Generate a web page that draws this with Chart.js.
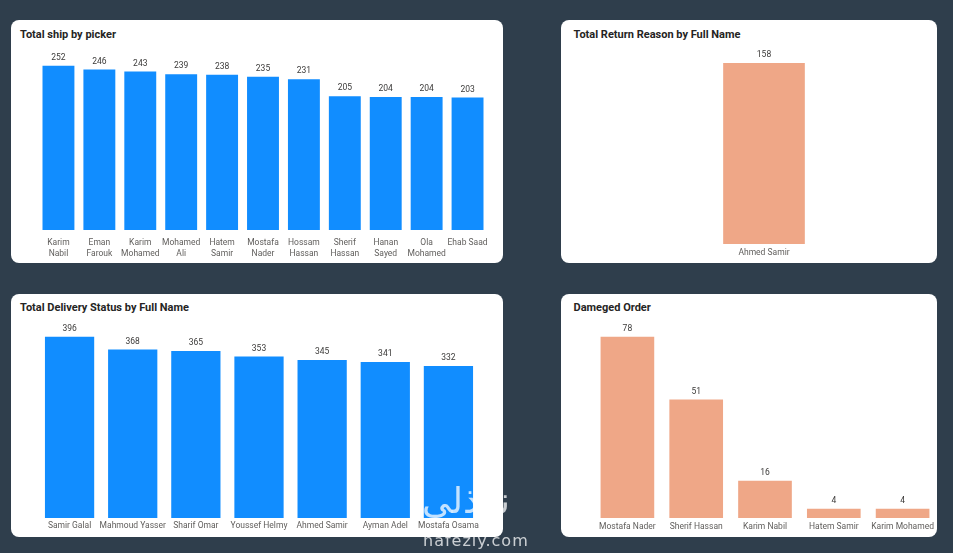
<!DOCTYPE html>
<html>
<head>
<meta charset="utf-8">
<script src="https://cdn.jsdelivr.net/npm/chart.js@4.4.1/dist/chart.umd.min.js"></script>
<style>
  html, body { margin: 0; padding: 0; }
  body { width: 953px; height: 553px; background: #2f3e4c; position: relative; overflow: hidden; font-family: Roboto, "Noto Sans", sans-serif; }
  .panel { position: absolute; background: #fff; border-radius: 8px; overflow: hidden; }
  .title { position: absolute; font-weight: 700; font-size: 11px; color: #252423; white-space: nowrap; line-height: 12px; }
  .box { position: absolute; }
  .mark { position: absolute; color: rgba(255,255,255,0.75); font-family: "DejaVu Sans", sans-serif; white-space: nowrap; }
</style>
</head>
<body>
<div class="panel" id="p1" style="left:11px;top:20px;width:492px;height:243px;">
  <div class="title" style="left:9px;top:9px;">Total ship by picker</div>
  <div class="box" style="left:26.5px;top:30px;width:450px;height:213px;"><canvas id="shipChart"></canvas></div>
</div>
<div class="panel" id="p2" style="left:561px;top:20px;width:376px;height:243px;">
  <div class="title" style="left:12.5px;top:9px;">Total Return Reason by Full Name</div>
  <div class="box" style="left:39px;top:30px;width:328px;height:213px;"><canvas id="returnChart"></canvas></div>
</div>
<div class="panel" id="p3" style="left:11px;top:294px;width:492px;height:243px;">
  <div class="title" style="left:9px;top:8px;">Total Delivery Status by Full Name</div>
  <div class="box" style="left:27.4px;top:26px;width:442px;height:217px;"><canvas id="deliveryChart"></canvas></div>
</div>
<div class="panel" id="p4" style="left:561px;top:294px;width:376px;height:243px;">
  <div class="title" style="left:12.5px;top:8px;">Dameged Order</div>
  <div class="box" style="left:32.3px;top:26px;width:344px;height:217px;"><canvas id="damagedChart"></canvas></div>
</div>
<div class="mark" style="left:422px;top:480px;font-size:36px;">نفذلي</div>
<div class="mark" style="left:423px;top:531px;font-size:16px;letter-spacing:1px;">nafezly.com</div>

<script>
const shipNames = [['Karim', 'Nabil'], ['Eman', 'Farouk'], ['Karim', 'Mohamed'], ['Mohamed', 'Ali'], ['Hatem', 'Samir'], ['Mostafa', 'Nader'], ['Hossam', 'Hassan'], ['Sherif', 'Hassan'], ['Hanan', 'Sayed'], ['Ola', 'Mohamed'], 'Ehab Saad'];
const shipValues = [252, 246, 243, 239, 238, 235, 231, 205, 204, 204, 203];

const returnNames = ['Ahmed Samir'];
const returnValues = [158];

const deliveryNames = ['Samir Galal', 'Mahmoud Yasser', 'Sharif Omar', 'Youssef Helmy', 'Ahmed Samir', 'Ayman Adel', 'Mostafa Osama'];
const deliveryValues = [396, 368, 365, 353, 345, 341, 332];

const damagedNames = ['Mostafa Nader', 'Sherif Hassan', 'Karim Nabil', 'Hatem Samir', 'Karim Mohamed'];
const damagedValues = [78, 51, 16, 4, 4];

const BLUE = '#118DFF';
const SALMON = '#EFA787';
const FONT = 'Roboto, "Noto Sans", sans-serif';

// draws the number above each bar
const valueLabels = {
    id: 'valueLabels',
    afterDatasetsDraw(chart) {
        const ctx = chart.ctx;
        ctx.save();
        ctx.font = '8.5px ' + FONT;
        ctx.fillStyle = '#3b3a39';
        ctx.textAlign = 'center';
        ctx.textBaseline = 'middle';
        chart.getDatasetMeta(0).data.forEach((bar, i) => {
            ctx.fillText(chart.data.datasets[0].data[i], bar.x, bar.y - 8);
        });
        ctx.restore();
    }
};

function renderBars(id, labels, values, color, yMax, axisHeight, tickPad, extra) {
    const ctx = document.getElementById(id).getContext('2d');
    const dataset = Object.assign({
        data: values,
        backgroundColor: color,
        borderWidth: 0,
        barPercentage: 0.78,
        categoryPercentage: 1
    }, extra || {});
    return new Chart(ctx, {
        type: 'bar',
        data: { labels: labels, datasets: [dataset] },
        plugins: [valueLabels],
        options: {
            responsive: true,
            maintainAspectRatio: false,
            animation: false,
            layout: { padding: 0 },
            plugins: { legend: { display: false }, tooltip: { enabled: false } },
            scales: {
                x: {
                    grid: { display: false, drawTicks: false },
                    border: { display: false },
                    ticks: {
                        autoSkip: false,
                        maxRotation: 0,
                        padding: tickPad,
                        color: '#605e5c',
                        font: { family: FONT, size: 8.5, lineHeight: 1.3 }
                    },
                    afterFit(scale) {
                        scale.height = axisHeight;
                        scale.paddingLeft = 0;
                        scale.paddingRight = 0;
                    }
                },
                y: { display: false, min: 0, max: yMax }
            }
        }
    });
}

renderBars('shipChart', shipNames, shipValues, BLUE, 276, 33, 7, null);
renderBars('returnChart', returnNames, returnValues, SALMON, 169.6, 19, 3, { barThickness: 81 });
renderBars('deliveryChart', deliveryNames, deliveryValues, BLUE, 432.5, 19, 2.5, null);
renderBars('damagedChart', damagedNames, damagedValues, SALMON, 85.2, 19, 3.5, null);
</script>
</body>
</html>
